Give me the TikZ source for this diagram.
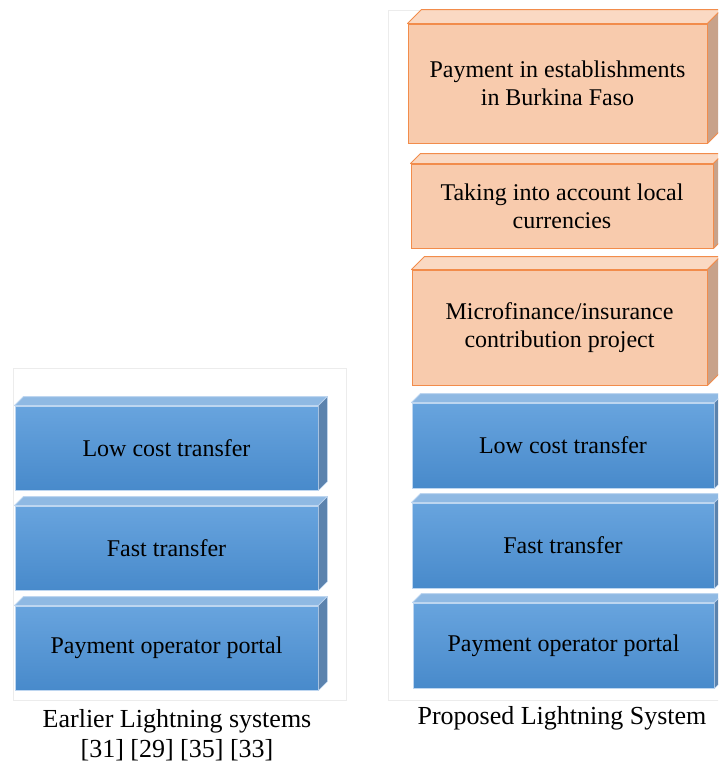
\documentclass[tikz,border=0pt]{standalone}
\usepackage{fontspec}
\setmainfont{Liberation Serif}
\usetikzlibrary{calc}
\definecolor{blueHi}{RGB}{104,164,222}
\definecolor{blueLo}{RGB}{72,138,203}
\definecolor{blueTop}{RGB}{143,185,227}
\definecolor{blueSide}{RGB}{91,131,174}
\definecolor{blueEdge}{RGB}{190,214,240}
\definecolor{orgFront}{RGB}{248,203,173}
\definecolor{orgTop}{RGB}{250,217,195}
\definecolor{orgSide}{RGB}{200,162,138}
\definecolor{orgEdge}{RGB}{242,140,75}
\definecolor{frameGray}{RGB}{236,236,236}

% top and right faces behind a front node
\newcommand\cuboid[3]{%
  \filldraw[#3top] (#1.north west) -- ++(#2,-#2) -- ($(#1.north east)+(#2,-#2)$) -- (#1.north east) -- cycle;
  \filldraw[#3side] (#1.north east) -- ++(#2,-#2) -- ($(#1.south east)+(#2,-#2)$) -- (#1.south east) -- cycle;
}

\begin{document}
\begin{tikzpicture}[
  x=1pt, y=-1pt,
  boxtext/.style={inner sep=0pt, align=center, font=\fontsize{24}{28}\selectfont},
  bluebox/.style={boxtext, draw=blueEdge, line width=0.9pt, top color=blueHi, bottom color=blueLo},
  bluetop/.style={fill=blueTop, draw=blueEdge, line width=0.9pt, line join=round},
  blueside/.style={fill=blueSide, draw=blueEdge, line width=0.5pt, line join=round},
  orgbox/.style={boxtext, draw=orgEdge, line width=0.9pt, fill=orgFront},
  orgtop/.style={fill=orgTop, draw=orgEdge, line width=0.9pt, line join=round},
  orgside/.style={fill=orgSide, draw=orgEdge, line width=0.9pt, line join=round},
  frame/.style={draw=frameGray, line width=0.9pt},
  caption/.style={align=center, font=\fontsize{26}{30}\selectfont},
]
\clip (0,0) rectangle (718,766);
\fill[white] (0,0) rectangle (718,766);

% ---------- frames ----------
\draw[frame] (13,368) rectangle (346,700);
\draw[frame] (388,10) rectangle (730,700);

% ---------- earlier systems ----------
\node[bluebox, minimum width=303pt, minimum height=84pt] (low1) at (166.5,448) {Low cost transfer};
\cuboid{low1}{9}{blue}
\node[bluebox, minimum width=303pt, minimum height=84pt] (fast1) at (166.5,548) {Fast transfer};
\cuboid{fast1}{9}{blue}
\node[bluebox, minimum width=303pt, minimum height=84pt] (portal1) at (166.5,648) {Payment operator portal};
\cuboid{portal1}{9}{blue}

\node[caption] (cap1) at (177,735) {Earlier Lightning systems\\{}[31] [29] [35] [33]};

% ---------- proposed system ----------
\node[orgbox, minimum width=299pt, minimum height=119pt] (pay2) at (557.5,83.5) {Payment in establishments\\in Burkina Faso};
\cuboid{pay2}{14}{org}
\node[orgbox, minimum width=302pt, minimum height=84pt] (curr2) at (562,206) {Taking into account local\\currencies};
\cuboid{curr2}{10}{org}
\node[orgbox, minimum width=295pt, minimum height=115pt] (micro2) at (559.5,327.5) {Microfinance/insurance\\contribution project};
\cuboid{micro2}{13}{org}

\node[bluebox, minimum width=302pt, minimum height=85pt] (low2) at (563,445.5) {Low cost transfer};
\cuboid{low2}{9}{blue}
\node[bluebox, minimum width=302pt, minimum height=85pt] (fast2) at (563,545.5) {Fast transfer};
\cuboid{fast2}{9}{blue}
\node[bluebox, minimum width=301pt, minimum height=85pt] (portal2) at (563.5,645.5) {Payment operator portal};
\cuboid{portal2}{9}{blue}

\node[caption] (cap2) at (562,718) {Proposed Lightning System};
\end{tikzpicture}
\end{document}
